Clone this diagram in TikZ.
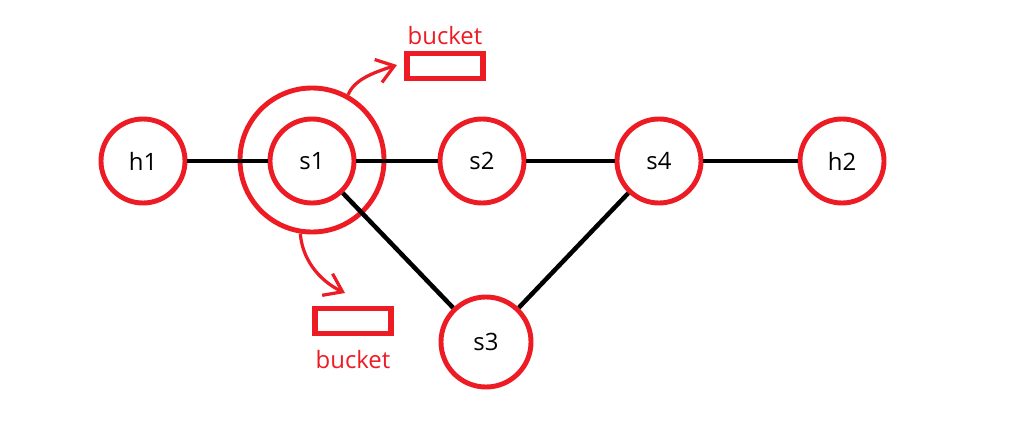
\documentclass[tikz,border=0pt]{standalone}
\usepackage{fontspec}
\setmainfont{Open Sans}
\usetikzlibrary{arrows.meta}
\definecolor{paintred}{RGB}{237,28,36}

\begin{document}
\begin{tikzpicture}[x=0.025cm,y=-0.025cm,
		hostnode/.style={circle,draw=paintred,line width=3.5pt,minimum size=2.1cm,inner sep=0pt,font=\fontsize{17}{20}\selectfont},
		ringnode/.style={circle,draw=paintred,line width=3.5pt,minimum size=3.6cm,inner sep=0pt},
		link/.style={line width=3.2pt,black},
		bucketbox/.style={draw=paintred,line width=3.8pt,minimum width=1.9cm,minimum height=0.64cm,inner sep=0pt},
		bucketlabel/.style={text=paintred,inner sep=0pt,font=\fontsize{17}{20}\selectfont},
		bucketarrow/.style={paintred,line width=2.3pt,-{Straight Barb[length=0.42cm,width=0.6cm]}}]
			\useasboundingbox (0,0) rectangle (1028,426);
			\node[hostnode] (h1) at (143,161) {h1};
			\node[hostnode] (s1) at (312,161) {s1};
			\node[ringnode] (s1ring) at (312,160) {};
			\node[hostnode] (s2) at (482,161) {s2};
			\node[hostnode] (s4) at (659,161) {s4};
			\node[hostnode] (h2) at (842,161) {h2};
			\node[hostnode,minimum size=2.25cm] (s3) at (486,342) {s3};
			\draw[link] (h1)--(s1);
			\draw[link] (s1)--(s2);
			\draw[link] (s2)--(s4);
			\draw[link] (s4)--(h2);
			\draw[link] (s1)--(s3);
			\draw[link] (s3)--(s4);
			\node[bucketbox] (bucketA) at (445,66) {};
			\node[bucketlabel] (bucketAlabel) at (445,36) {bucket};
			\node[bucketbox] (bucketB) at (353,321) {};
			\node[bucketlabel] (bucketBlabel) at (353,360) {bucket};
			\coordinate (tipA) at (397,65);
			\coordinate (tipB) at (345,293);
			\draw[bucketarrow] (s1ring.61) .. controls (354,80) and (372,73) .. (tipA);
			\draw[bucketarrow] (s1ring.261) .. controls (302,258) and (318,280) .. (tipB);
		\end{tikzpicture}
\end{document}
